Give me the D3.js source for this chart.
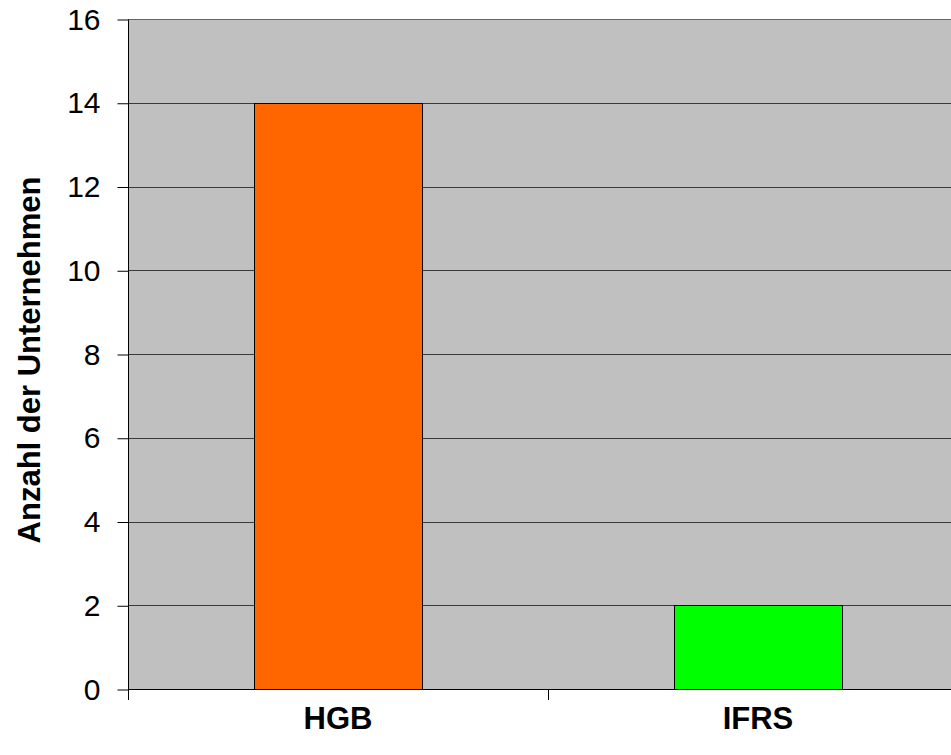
<!DOCTYPE html>
<html>
<head>
<meta charset="utf-8">
<script src="https://cdn.jsdelivr.net/npm/d3@7"></script>
<style>
  html, body { margin: 0; padding: 0; background: #fff; }
  svg { display: block; font-family: "Liberation Sans", Arial, sans-serif; }
</style>
</head>
<body>
<svg id="chart" width="951" height="755"></svg>
<script>
// Anzahl der Unternehmen je Rechnungslegungsstandard
const categories = ["HGB", "IFRS"];
const counts = [14, 2];
const barColors = ["#ff6600", "#00ff00"];
const yTicks = [0, 2, 4, 6, 8, 10, 12, 14, 16];
const yTitle = "Anzahl der Unternehmen";

const svg = d3.select("#chart");
const plot = { left: 128, top: 19, right: 968, bottom: 689 };

const x = d3.scaleBand()
  .domain(categories)
  .range([plot.left, plot.right])
  .paddingInner(0.6)
  .paddingOuter(0.3);

const y = d3.scaleLinear().domain([0, 16]).range([plot.bottom, plot.top]);

// plot background
svg.append("rect")
  .attr("x", plot.left).attr("y", plot.top)
  .attr("width", plot.right - plot.left).attr("height", plot.bottom - plot.top)
  .attr("fill", "#c0c0c0");

// horizontal gridlines
svg.append("g").selectAll("line")
  .data(yTicks.filter(d => d > 0))
  .join("line")
  .attr("x1", plot.left).attr("x2", plot.right)
  .attr("y1", d => Math.round(y(d)) + 0.5).attr("y2", d => Math.round(y(d)) + 0.5)
  .attr("stroke", d => d === 16 ? "#666" : "#3a3a3a")
  .attr("stroke-width", 1);

// bars
svg.append("g").selectAll("rect")
  .data(categories.map((c, i) => ({ c, v: counts[i], col: barColors[i] })))
  .join("rect")
  .attr("x", d => x(d.c) + 0.5)
  .attr("y", d => Math.round(y(d.v)) + 0.5)
  .attr("width", d => x.bandwidth())
  .attr("height", d => Math.round(y(0)) - Math.round(y(d.v)))
  .attr("fill", d => d.col)
  .attr("stroke", "#000")
  .attr("stroke-width", 1);

// y axis
const yAxis = d3.axisLeft(y).tickValues(yTicks).tickSize(11).tickPadding(17).tickFormat(d3.format("d"));
const gy = svg.append("g")
  .attr("transform", `translate(${plot.left + 0.5},0.5)`)
  .call(yAxis);
gy.select(".domain").attr("stroke", "#000").attr("d", `M0,${plot.top}V${plot.bottom}`);
gy.selectAll(".tick line").attr("stroke", "#000");
gy.selectAll(".tick text")
  .attr("font-size", 30).attr("fill", "#000")
  .attr("font-family", "'Liberation Sans', Arial, sans-serif");

// x axis
const xAxis = d3.axisBottom(x).tickSize(0).tickPadding(0).tickFormat("");
const gx = svg.append("g")
  .attr("transform", `translate(0,${plot.bottom + 0.5})`)
  .call(xAxis);
gx.select(".domain").attr("stroke", "#000").attr("d", `M${plot.left},0H${plot.right}`);
gx.selectAll(".tick").remove();

// tick marks between categories
const boundaries = [plot.left, (x(categories[0]) + x.bandwidth() + x(categories[1])) / 2];
svg.append("g").selectAll("line")
  .data(boundaries)
  .join("line")
  .attr("x1", d => Math.round(d) + 0.5).attr("x2", d => Math.round(d) + 0.5)
  .attr("y1", plot.bottom).attr("y2", plot.bottom + 11)
  .attr("stroke", "#000");

// category labels
svg.append("g").selectAll("text")
  .data(categories)
  .join("text")
  .attr("x", d => x(d) + x.bandwidth() / 2)
  .attr("y", 729)
  .attr("text-anchor", "middle")
  .attr("font-size", 31)
  .attr("font-weight", "bold")
  .text(d => d);

// y axis title
svg.append("text")
  .attr("transform", `translate(40,360) rotate(-90)`)
  .attr("text-anchor", "middle")
  .attr("font-size", 31)
  .attr("font-weight", "bold")
  .text(yTitle);
</script>
</body>
</html>
